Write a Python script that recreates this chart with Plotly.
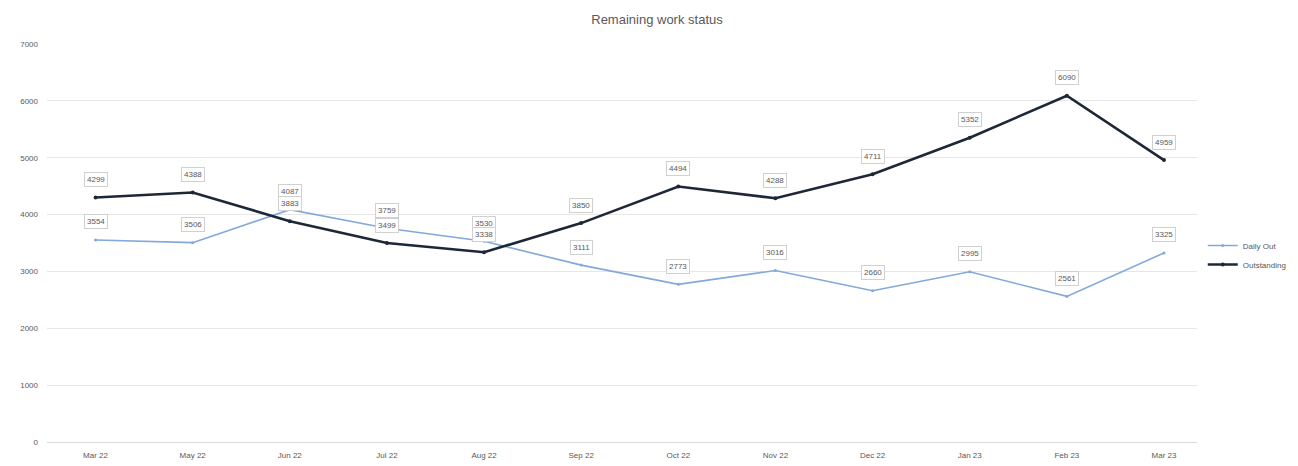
import plotly.graph_objects as go

categories = ["Mar 22", "May 22", "Jun 22", "Jul 22", "Aug 22", "Sep 22",
              "Oct 22", "Nov 22", "Dec 22", "Jan 23", "Feb 23", "Mar 23"]
daily_out = [3554, 3506, 4087, 3759, 3530, 3111, 2773, 3016, 2660, 2995, 2561, 3325]
outstanding = [4299, 4388, 3883, 3499, 3338, 3850, 4494, 4288, 4711, 5352, 6090, 4959]
y_ticks = [0, 1000, 2000, 3000, 4000, 5000, 6000, 7000]

fig = go.Figure()
fig.add_trace(go.Scatter(
    x=categories, y=daily_out, name="Daily Out", mode="lines+markers",
    line=dict(color="#82a9d9", width=1.6),
    marker=dict(size=3, color="#82a9d9"),
))
fig.add_trace(go.Scatter(
    x=categories, y=outstanding, name="Outstanding", mode="lines+markers",
    line=dict(color="#1c2836", width=2.6),
    marker=dict(size=4, color="#1c2836"),
))

annotations = []
for series in (daily_out, outstanding):
    for c, v in zip(categories, series):
        annotations.append(dict(
            x=c, y=v, text=str(v), showarrow=False, yshift=18,
            font=dict(size=8, color="#595959", family="Liberation Sans"),
            bgcolor="white", bordercolor="#d0d0d0", borderwidth=1, borderpad=2,
        ))

fig.update_layout(
    width=1298, height=466,
    margin=dict(l=33, r=109, t=36, b=32),
    paper_bgcolor="white", plot_bgcolor="white",
    title=dict(text="Remaining work status", x=0.5, xanchor="center", y=0.975,
               yanchor="middle",
               font=dict(size=13, color="#595959", family="Liberation Sans")),
    font=dict(family="Liberation Sans", size=8, color="#595959"),
    xaxis=dict(type="category", range=[-0.5, 11.34], showgrid=False,
               showline=True, linecolor="#d9d9d9", ticks="",
               tickfont=dict(size=8, color="#595959"), ticklabelstandoff=5),
    yaxis=dict(range=[0, 7000], tickvals=y_ticks, showgrid=True,
               gridcolor="#e6e6e6", zeroline=False, showline=False,
               tickfont=dict(size=8, color="#595959"), ticklabelstandoff=8),
    legend=dict(x=1.005, y=0.47, xanchor="left", yanchor="middle",
                font=dict(size=8, color="#595959"), bgcolor="rgba(0,0,0,0)",
                itemwidth=30, tracegroupgap=2),
    annotations=annotations,
    showlegend=True,
)

fig.write_html("out.html")
